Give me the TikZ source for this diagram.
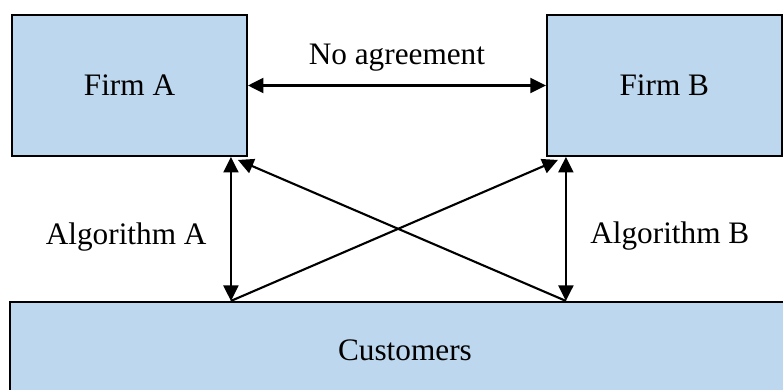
\documentclass[tikz,border=0pt]{standalone}
\usepackage{fontspec}
\setmainfont{Liberation Serif}
\usetikzlibrary{arrows.meta,positioning,calc}
\definecolor{boxfill}{HTML}{BDD7EE}
\tikzset{firm/.style={draw=black,line width=1.1pt,fill=boxfill,align=center,inner sep=0pt,minimum width=4.7cm,minimum height=2.82cm},
market/.style={firm,minimum width=15.8cm,minimum height=1.92cm},
both/.style={{Triangle[length=3.1mm,width=3mm]}-{Triangle[length=3.1mm,width=3mm]},line width=1.2pt},
arr/.style={-{Triangle[length=3.1mm,width=3mm]},line width=1.2pt}}

\begin{document}
\begin{tikzpicture}[x=0.02cm,y=0.02cm,font=\fontsize{17.8}{21}\selectfont]
\useasboundingbox (0,0) rectangle (783,389);
\node[firm](fa) at (129.5,303.5){Firm A};\node[firm,right=5.96cm of fa](fb){Firm B};
\node[market,anchor=north west](cu) at ([xshift=-0.04cm,yshift=-2.88cm]fa.south west){Customers};
% feet of the algorithm links
\coordinate(ta) at ([xshift=-0.34cm]fa.south east);\coordinate(ba) at (ta |- cu.north);
\coordinate(tb) at ([xshift=0.4cm]fb.south west);\coordinate(bb) at (tb |- cu.north);
\draw[both](fa)--node[above=1.5mm]{No agreement}(fb);
\draw[both](ta)--node[left=3.5mm,yshift=-1.6mm]{Algorithm A}(ba);
\draw[both](tb)--node[right=3.5mm,yshift=-1.4mm]{Algorithm B}(bb);
\draw[arr](ba)--([xshift=0.24cm,yshift=-0.06cm]fb.south west);
\draw[arr](bb)--([xshift=-0.2cm,yshift=-0.06cm]fa.south east);
\end{tikzpicture}
\end{document}
